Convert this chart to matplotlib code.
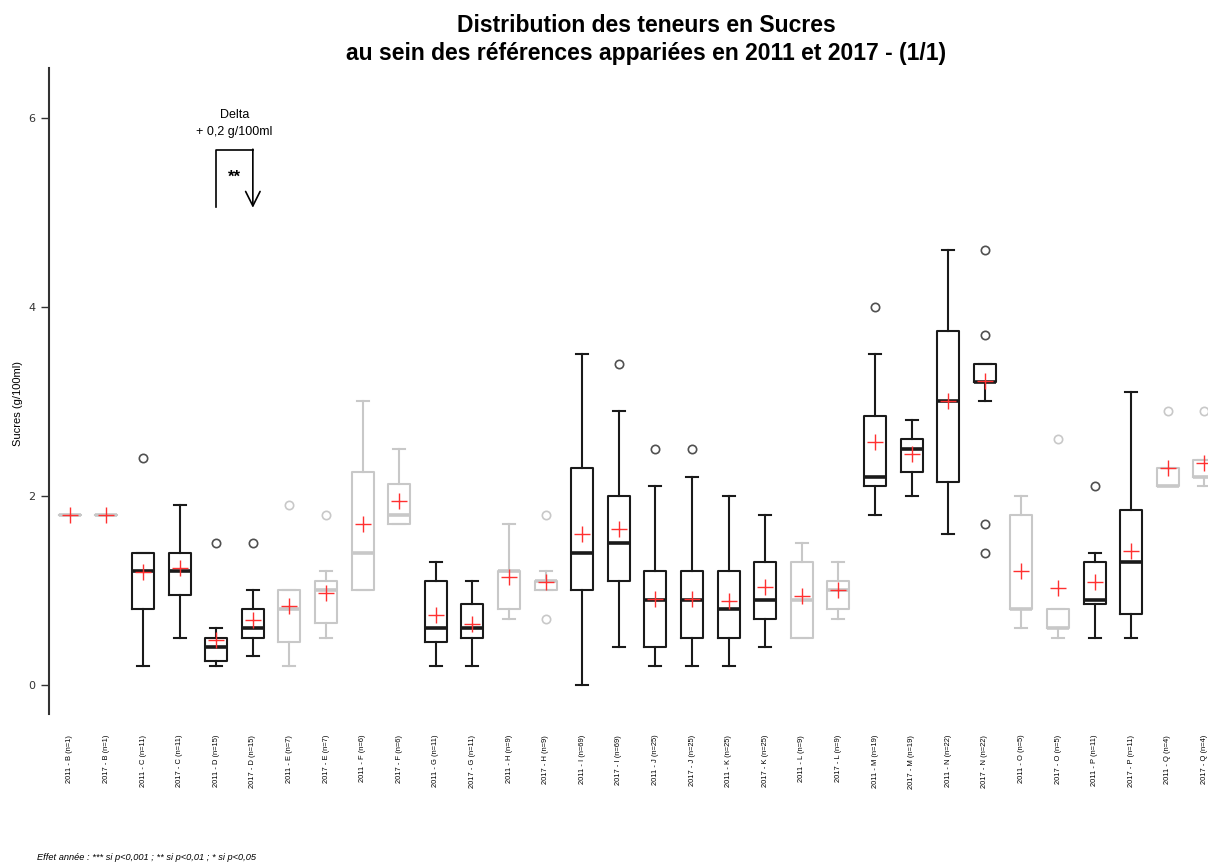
import matplotlib
matplotlib.use('Agg')
import matplotlib.pyplot as plt
from matplotlib.transforms import Bbox

# Groups and sample sizes (paired references)
groups = ['B', 'C', 'D', 'E', 'F', 'G', 'H', 'I', 'J', 'K', 'L', 'M', 'N', 'O', 'P', 'Q']
n_obs = [1, 11, 15, 7, 6, 11, 9, 69, 25, 25, 9, 19, 22, 5, 11, 4]
years = ['2011', '2017']
# groups without significant year effect are drawn in grey
grey_groups = ['B', 'E', 'F', 'H', 'L', 'O', 'Q']

# Box statistics, one entry per box: 2011-B, 2017-B, 2011-C, ...
whislo = [1.8, 1.8, 0.2, 0.5, 0.2, 0.3, 0.2, 0.5, 1.0, 1.7, 0.2, 0.2, 0.7, 1.0, 0.0, 0.4,
          0.2, 0.2, 0.2, 0.4, 0.5, 0.7, 1.8, 2.0, 1.6, 3.0, 0.6, 0.5, 0.5, 0.5, 2.1, 2.1]
q1 = [1.8, 1.8, 0.8, 0.95, 0.25, 0.5, 0.45, 0.65, 1.0, 1.7, 0.45, 0.5, 0.8, 1.0, 1.0, 1.1,
      0.4, 0.5, 0.5, 0.7, 0.5, 0.8, 2.1, 2.25, 2.15, 3.2, 0.8, 0.6, 0.85, 0.75, 2.1, 2.2]
med = [1.8, 1.8, 1.2, 1.2, 0.4, 0.6, 0.8, 1.0, 1.4, 1.8, 0.6, 0.6, 1.2, 1.1, 1.4, 1.5,
       0.9, 0.9, 0.8, 0.9, 0.9, 1.0, 2.2, 2.5, 3.0, 3.2, 0.8, 0.6, 0.9, 1.3, 2.1, 2.2]
q3 = [1.8, 1.8, 1.4, 1.4, 0.5, 0.8, 1.0, 1.1, 2.25, 2.13, 1.1, 0.85, 1.2, 1.1, 2.3, 2.0,
      1.2, 1.2, 1.2, 1.3, 1.3, 1.1, 2.85, 2.6, 3.75, 3.4, 1.8, 0.8, 1.3, 1.85, 2.3, 2.38]
whishi = [1.8, 1.8, 1.4, 1.9, 0.6, 1.0, 1.0, 1.2, 3.0, 2.5, 1.3, 1.1, 1.7, 1.2, 3.5, 2.9,
          2.1, 2.2, 2.0, 1.8, 1.5, 1.3, 3.5, 2.8, 4.6, 3.4, 2.0, 0.8, 1.4, 3.1, 2.3, 2.38]
means = [1.8, 1.8, 1.19, 1.24, 0.47, 0.69, 0.83, 0.97, 1.7, 1.95, 0.74, 0.64, 1.14, 1.09, 1.6, 1.65,
         0.91, 0.91, 0.89, 1.03, 0.94, 1.0, 2.57, 2.44, 3.0, 3.22, 1.2, 1.02, 1.09, 1.42, 2.3, 2.35]
fliers = [[], [], [2.4], [], [1.5], [1.5], [1.9], [1.8], [], [], [], [], [], [0.7, 1.8], [], [3.4],
          [2.5], [2.5], [], [], [], [], [4.0], [], [], [1.4, 1.7, 3.7, 4.6], [], [2.6], [2.1], [], [2.9], [2.9]]

# build labels and bxp stats
labels = []
box_groups = []
for g, n in zip(groups, n_obs):
    for y in years:
        labels.append(f'{y} - {g} (n={n})')
        box_groups.append(g)

stats = []
for i in range(len(labels)):
    stats.append(dict(whislo=whislo[i], q1=q1[i], med=med[i], q3=q3[i], whishi=whishi[i],
                      mean=means[i], fliers=fliers[i], label=labels[i]))
positions = list(range(1, len(labels) + 1))

fig = plt.figure(figsize=(12.08, 8.66), dpi=100)
ax = fig.add_axes([49 / 1208, (866 - 714) / 866, (1241 - 49) / 1208, (714 - 68) / 866])


def draw_boxes(idx, col, flier_col):
    line = dict(color=col, linewidth=1.5)
    ax.bxp([stats[i] for i in idx], positions=[positions[i] for i in idx], widths=0.6,
           showmeans=True, capwidths=0.33,
           boxprops=line, whiskerprops=line, capprops=line,
           medianprops=dict(color=col, linewidth=2.6, solid_capstyle='butt'),
           meanprops=dict(marker='+', markeredgecolor='#ff3030', markersize=12,
                          markeredgewidth=1.0, linestyle='none'),
           flierprops=dict(marker='o', markerfacecolor='none', markeredgecolor=flier_col,
                           markersize=6, markeredgewidth=1.2, linestyle='none'),
           manage_ticks=False)


black_idx = [i for i, g in enumerate(box_groups) if g not in grey_groups]
grey_idx = [i for i, g in enumerate(box_groups) if g in grey_groups]
draw_boxes(black_idx, '#1a1a1a', '#505050')
draw_boxes(grey_idx, '#c8c8c8', '#c8c8c8')

ax.set_xlim(0.43, 33.0)
ax.set_ylim(-0.31, 6.53)
for s in ['top', 'right', 'bottom']:
    ax.spines[s].set_visible(False)
ax.spines['left'].set_linewidth(1.5)
ax.spines['left'].set_color('#333333')
ax.set_yticks([0, 2, 4, 6])
ax.tick_params(axis='y', length=6, width=1, colors='#333333', labelsize=8, pad=4)
ax.set_xticks(positions)
ax.set_xticklabels(labels, rotation=90, va='top', fontsize=5.4, family='Liberation Sans')
ax.tick_params(axis='x', length=0, pad=15)

fig.text(18 / 1208, (866 - 404) / 866, 'Sucres (g/100ml)', rotation=90, ha='center',
         va='center', fontsize=8, family='Liberation Sans')

# Delta annotation between 2011-D and 2017-D
d0 = positions[labels.index('2011 - D (n=15)')]
d1 = positions[labels.index('2017 - D (n=15)')]
ax.plot([d0, d0, d1], [5.06, 5.66, 5.66], color='black', lw=1.2, clip_on=False)
ax.annotate('', xy=(d1, 5.05), xytext=(d1, 5.67),
            arrowprops=dict(arrowstyle='->', lw=1.2, color='black', mutation_scale=26,
                            shrinkA=0, shrinkB=0))
ax.text((d0 + d1) / 2, 5.37, '**', ha='center', va='center', fontsize=12,
        fontweight='bold', family='Liberation Sans')
ax.text((d0 + d1) / 2, 6.03, 'Delta', ha='center', va='center', fontsize=9,
        family='Liberation Sans')
# the delta text is cut off on its right side in the original
delta_txt = ax.text((d0 + d1) / 2, 5.85, '+ 0,2 g/100ml', ha='center', va='center',
                    fontsize=9, family='Liberation Sans')
delta_txt.set_clip_path(None)
delta_txt.set_clip_box(Bbox.from_extents(0, 0, 273, 866))
delta_txt.set_clip_on(True)

fig.text(646 / 1208, 1 - 14 / 866,
         'Distribution des teneurs en Sucres\nau sein des références appariées en 2011 et 2017 - (1/1)',
         ha='center', va='top', fontsize=16.5, fontweight='bold', family='Liberation Sans',
         linespacing=1.28)
fig.text(37 / 1208, 1 - 857 / 866, 'Effet année : *** si p<0,001 ; ** si p<0,01 ; * si p<0,05',
         ha='left', va='center', fontsize=6.7, style='italic', family='Liberation Sans')

fig.savefig('out.png', dpi=100)
